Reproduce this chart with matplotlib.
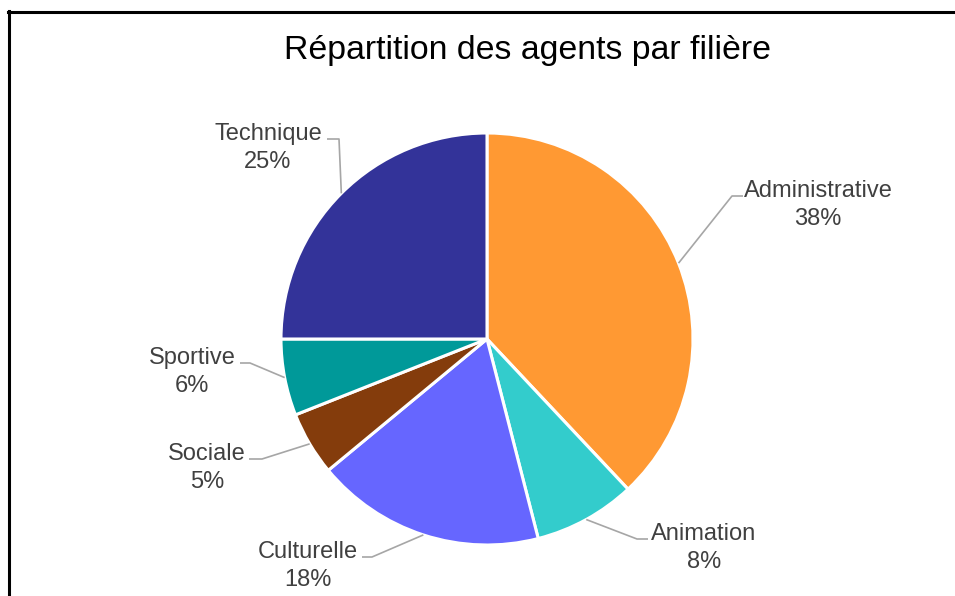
import numpy as np
import matplotlib
matplotlib.use("Agg")
import matplotlib.pyplot as plt
from matplotlib.lines import Line2D

plt.rcParams['font.family'] = ['Liberation Sans', 'DejaVu Sans']

# data
categories = ['Administrative', 'Animation', 'Culturelle', 'Sociale', 'Sportive', 'Technique']
shares = [38, 8, 18, 5, 6, 25]
colors = ['#FF9933', '#33CCCC', '#6666FF', '#843C0C', '#009999', '#333399']
title = 'Répartition des agents par filière'

# layout (pixels, origin top-left): label centre x, centre y, leader attach x, elbow x
label_pos = {
    'Administrative': (818, 203, 743, 732),
    'Animation': (704, 546, 648, 637),
    'Culturelle': (308, 564, 362, 372),
    'Sociale': (207, 466, 249, 262),
    'Sportive': (192, 370, 240, 250),
    'Technique': (268, 146, 327, 339),
}

W, H = 955, 596
cx, cy, r = 487, 339, 206

fig = plt.figure(figsize=(W / 100, H / 100), dpi=100)
ax = fig.add_axes([0, 0, 1, 1])

wedges, _ = ax.pie(shares, colors=colors, startangle=90, counterclock=False,
                   center=(cx, H - cy), radius=r, frame=True,
                   wedgeprops=dict(edgecolor='white', linewidth=2.2))
ax.set_xlim(0, W)
ax.set_ylim(0, H)
ax.set_aspect('equal')
ax.axis('off')

for w, name, val in zip(wedges, categories, shares):
    mid = np.deg2rad((w.theta1 + w.theta2) / 2)
    px = cx + r * np.cos(mid)
    py = (H - cy) + r * np.sin(mid)
    tx, ty, attach_x, elbow_x = label_pos[name]
    ly = H - (ty - 7)
    ax.plot([px, elbow_x, attach_x], [py, ly, ly], color='#A6A6A6', lw=1.2,
            solid_capstyle='butt', zorder=1)
    ax.text(tx, H - ty - 2, f'{name}\n{val}%', ha='center', va='center',
            fontsize=17, color='#404040', linespacing=1.35)

fig.text(527 / W, 1 - 51 / H, title, ha='center', va='center',
         fontsize=24.4, color='#000000')

# chart frame (only top and left edges visible in the crop)
fig.add_artist(Line2D([8.5 / W, 8.5 / W], [0, 1 - 11 / H], transform=fig.transFigure,
                      color='black', lw=2.2))
fig.add_artist(Line2D([7.5 / W, 1], [1 - 12 / H, 1 - 12 / H], transform=fig.transFigure,
                      color='black', lw=2.2))

fig.savefig('out.png', dpi=100, facecolor='white')
